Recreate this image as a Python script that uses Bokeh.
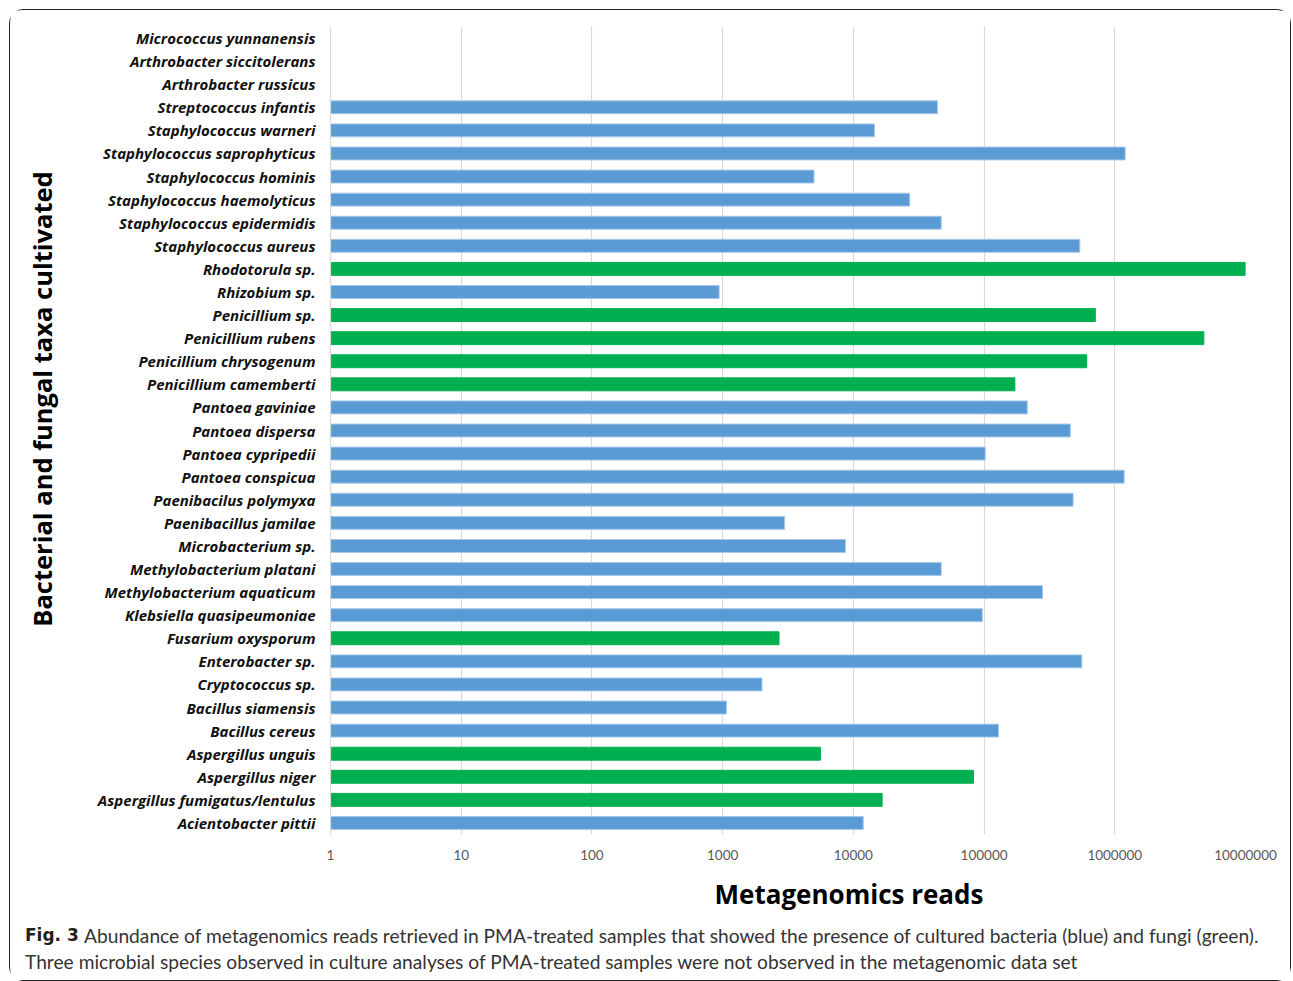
import math
from bokeh.plotting import figure
from bokeh.models import FactorRange, Range1d, FixedTicker, ColumnDataSource
from bokeh.layouts import column, row
from bokeh.core.properties import value
from bokeh.embed import file_html
from bokeh.resources import INLINE

species = [
    "Micrococcus yunnanensis", "Arthrobacter siccitolerans", "Arthrobacter russicus",
    "Streptococcus infantis", "Staphylococcus warneri", "Staphylococcus saprophyticus",
    "Staphylococcus hominis", "Staphylococcus haemolyticus", "Staphylococcus epidermidis",
    "Staphylococcus aureus", "Rhodotorula sp.", "Rhizobium sp.", "Penicillium sp.",
    "Penicillium rubens", "Penicillium chrysogenum", "Penicillium camemberti",
    "Pantoea gaviniae", "Pantoea dispersa", "Pantoea cypripedii", "Pantoea conspicua",
    "Paenibacilus polymyxa", "Paenibacillus jamilae", "Microbacterium sp.",
    "Methylobacterium platani", "Methylobacterium aquaticum", "Klebsiella quasipeumoniae",
    "Fusarium oxysporum", "Enterobacter sp.", "Cryptococcus sp.", "Bacillus siamensis",
    "Bacillus cereus", "Aspergillus unguis", "Aspergillus niger",
    "Aspergillus fumigatus/lentulus", "Acientobacter pittii",
]
reads = [
    None, None, None,
    44000, 14500, 1200000,
    5000, 27000, 47000,
    540000, 10000000, 940, 710000,
    4800000, 610000, 172000,
    214000, 457000, 102000, 1180000,
    480000, 2980, 8700,
    47000, 280000, 97000,
    2700, 560000, 2000, 1070,
    129000, 5600, 83000,
    16600, 11900,
]
group = [
    "none", "none", "none",
    "bacteria", "bacteria", "bacteria",
    "bacteria", "bacteria", "bacteria",
    "bacteria", "fungi", "bacteria", "fungi",
    "fungi", "fungi", "fungi",
    "bacteria", "bacteria", "bacteria", "bacteria",
    "bacteria", "bacteria", "bacteria",
    "bacteria", "bacteria", "bacteria",
    "fungi", "bacteria", "bacteria", "bacteria",
    "bacteria", "fungi", "fungi",
    "fungi", "bacteria",
]
tick_values = [1, 10, 100, 1000, 10000, 100000, 1000000, 10000000]
tick_labels = ["1", "10", "100", "1000", "10000", "100000", "1000000", "10000000"]

y_title = "Bacterial and fungal taxa cultivated"
x_title = "Metagenomics reads"
caption_head = "Fig. 3"
caption_line1 = ("Abundance of metagenomics reads retrieved in PMA-treated samples that showed "
                 "the presence of cultured bacteria (blue) and fungi (green).")
caption_line2 = ("Three microbial species observed in culture analyses of PMA-treated samples "
                 "were not observed in the metagenomic data set")

colors = {"bacteria": "#5B9BD5", "fungi": "#00B050"}
outline = {"bacteria": "#A7C8EA", "fungi": "#00B050"}

rows = [(s, r, g) for s, r, g in zip(species, reads, group) if r is not None]
src = ColumnDataSource(dict(
    y=[s for s, _, _ in rows],
    right=[r for _, r, _ in rows],
    left=[1] * len(rows),
    color=[colors[g] for _, _, g in rows],
    line=[outline[g] for _, _, g in rows],
))

# content origin on the page (margin + border)
OX, OY = 10.5, 10.5
CW = 1280
TW = 60
HA = 860
HB = 110

# left strip with the rotated y title (data coords = page pixels, y negated)
t = figure(
    width=TW, height=HA, output_backend="svg", toolbar_location=None,
    x_range=Range1d(OX, OX + TW), y_range=Range1d(-(OY + HA), -OY),
    x_axis_location=None, y_axis_location=None, min_border=0, frame_align=False,
)
t.grid.visible = False
t.outline_line_color = None
t.text(x=[42], y=[-399], text=[y_title], angle=math.pi / 2, text_align="center",
       text_baseline="middle", text_font=value("Open Sans"), text_font_style="bold",
       text_font_size="25.5px", text_color="#000000")

p = figure(
    width=CW - TW, height=HA, output_backend="svg", toolbar_location=None,
    x_axis_type="log", x_range=Range1d(1, 1e7),
    y_range=FactorRange(*list(reversed(species)), range_padding=0),
    min_border_left=260, min_border_right=45, min_border_top=16, min_border_bottom=36,
    frame_align=False,
)
p.hbar(y="y", left="left", right="right", height=0.56, fill_color="color",
       line_color="line", line_width=1, source=src)

p.outline_line_color = None
p.ygrid.grid_line_color = None
p.xgrid.grid_line_color = "#D9D9D9"
p.xgrid.grid_line_width = 1.2
p.xgrid.ticker = FixedTicker(ticks=tick_values)

xa = p.xaxis[0]
xa.ticker = FixedTicker(ticks=tick_values)
xa.major_label_overrides = {v: l for v, l in zip(tick_values, tick_labels)}
xa.axis_line_color = None
xa.major_tick_line_color = None
xa.minor_tick_line_color = None
xa.major_label_standoff = 9
xa.major_label_text_font = "Lato"
xa.major_label_text_font_size = "13.5px"
xa.major_label_text_color = "#595959"

ya = p.yaxis[0]
ya.axis_line_color = "#D9D9D9"
ya.axis_line_width = 1.2
ya.major_tick_line_color = None
ya.minor_tick_line_color = None
ya.major_label_standoff = 9
ya.major_label_text_font = "Open Sans"
ya.major_label_text_font_style = "bold italic"
ya.major_label_text_font_size = "15px"
ya.major_label_text_color = "#111111"

# caption panel: data coordinates equal page pixel coordinates
q = figure(
    width=CW, height=HB, output_backend="svg", toolbar_location=None,
    x_range=Range1d(OX, OX + CW), y_range=Range1d(OY + HA + HB, OY + HA),
    x_axis_location=None, y_axis_location=None, min_border=0, frame_align=False,
)
q.grid.visible = False
q.outline_line_color = None

q.text(x=[849], y=[894], text=[x_title], text_align="center", text_baseline="middle",
       text_font=value("Open Sans"), text_font_style="bold", text_font_size="26px",
       text_color="#000000")
q.text(x=[25], y=[935], text=[caption_head], text_align="left", text_baseline="middle",
       text_font=value("DejaVu Sans"), text_font_style="bold", text_font_size="17px",
       text_color="#1F1F1F")
q.text(x=[84], y=[935], text=[caption_line1], text_align="left", text_baseline="middle",
       text_font=value("Lato"), text_font_size="19.2px", text_color="#333333")
q.text(x=[25], y=[961], text=[caption_line2], text_align="left", text_baseline="middle",
       text_font=value("Lato"), text_font_size="19.2px", text_color="#333333")

layout = column(row(t, p, spacing=0), q, spacing=0, margin=(9, 0, 0, 9))
layout.styles = {"border": "1.5px solid #222222", "border-radius": "14px"}

open("out.html", "w").write(file_html(layout, INLINE))
